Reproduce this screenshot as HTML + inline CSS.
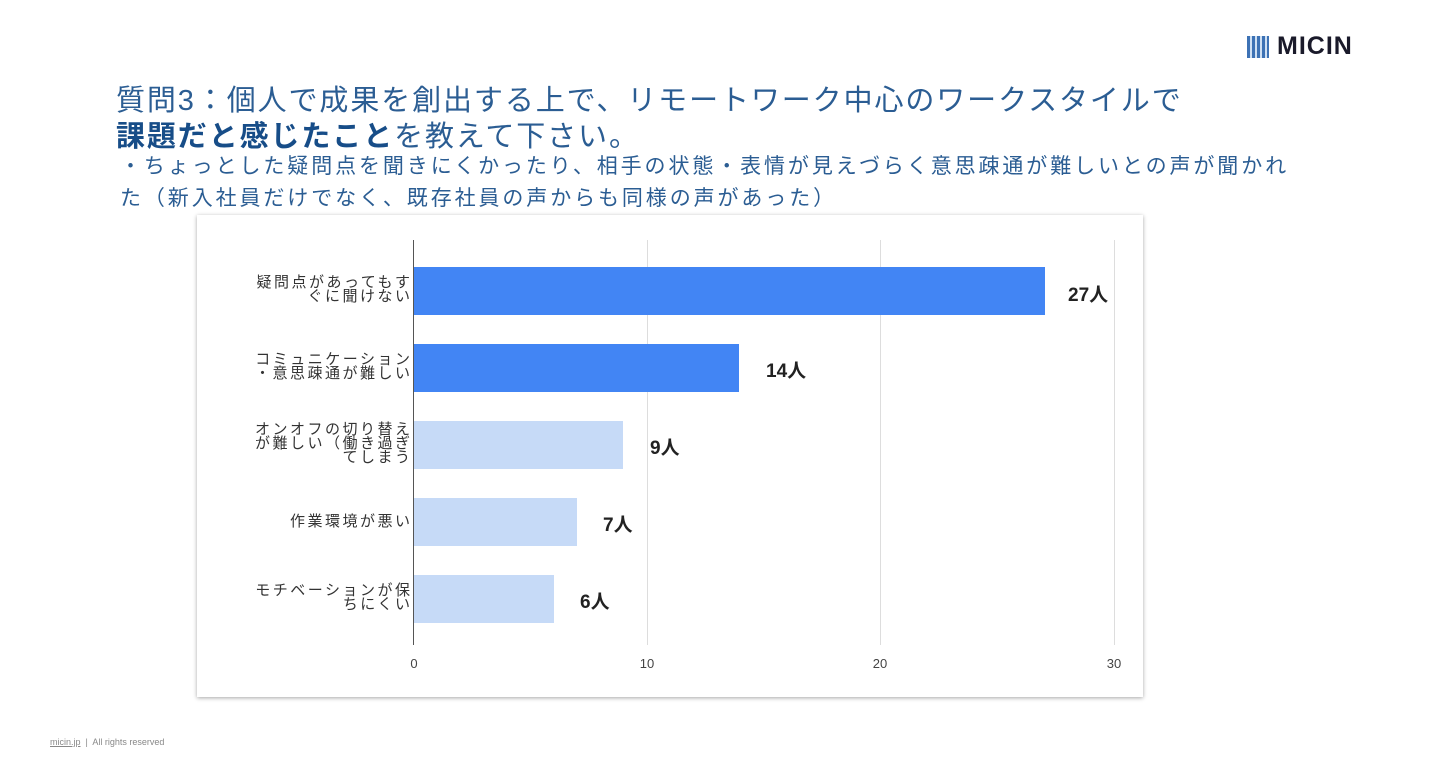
<!DOCTYPE html>
<html><head><meta charset="utf-8"><style>
body{margin:0;width:1440px;height:779px;background:#fff;position:relative;overflow:hidden;font-family:"Liberation Sans","Noto Sans CJK JP",sans-serif}
.t{position:absolute;white-space:nowrap;color:#2b5d93}
.card{position:absolute;left:197px;top:215px;width:946px;height:482px;background:#fff;box-shadow:0 1px 4px rgba(0,0,0,.35)}
.lab{position:absolute;right:1030px;text-align:right;font-size:15px;line-height:14px;letter-spacing:2.5px;margin-right:-2.5px;color:#333;white-space:nowrap}
.bar{position:absolute;left:414px;height:48px}
.v{position:absolute;font-size:19px;font-weight:bold;color:#222}
.g{position:absolute;top:240px;height:405px;width:1px;background:#ddd}
.tk{position:absolute;top:656px;font-size:13px;color:#444;transform:translateX(-50%)}
</style></head><body>
<div style="position:absolute;left:1247px;top:36px;width:22px;height:22px;background:repeating-linear-gradient(90deg,#3d72b5 0 3px,#cfe0f3 3px 5px)"></div>
<div style="position:absolute;left:1277px;top:32px;font-size:25px;font-weight:bold;color:#1a1a2a;letter-spacing:1px">MICIN</div>
<div class="t" style="left:116px;top:77px;font-size:29px;letter-spacing:1.9px">質問3：個人で成果を創出する上で、リモートワーク中心のワークスタイルで</div>
<div class="t" style="left:116px;top:113px;font-size:29px;letter-spacing:1.9px"><b style="color:#174d88">課題だと感じたこと</b>を教えて下さい。</div>
<div class="t" style="left:120px;top:150px;font-size:21px;letter-spacing:2.9px">・ちょっとした疑問点を聞きにくかったり、相手の状態・表情が見えづらく意思疎通が難しいとの声が聞かれ</div>
<div class="t" style="left:120px;top:182px;font-size:21px;letter-spacing:2.9px">た（新入社員だけでなく、既存社員の声からも同様の声があった）</div>
<div class="card"></div>
<div class="g" style="left:647px"></div><div class="g" style="left:880px"></div><div class="g" style="left:1114px"></div>
<div class="g" style="left:413px;background:#555"></div>
<div class="bar" style="top:267px;width:631px;background:#4285f4"></div>
<div class="bar" style="top:344px;width:325px;background:#4285f4"></div>
<div class="bar" style="top:421px;width:209px;background:#c6daf7"></div>
<div class="bar" style="top:498px;width:163px;background:#c6daf7"></div>
<div class="bar" style="top:575px;width:140px;background:#c6daf7"></div>
<div class="v" style="left:1068px;top:280px">27人</div>
<div class="v" style="left:766px;top:356px">14人</div>
<div class="v" style="left:650px;top:433px">9人</div>
<div class="v" style="left:603px;top:510px">7人</div>
<div class="v" style="left:580px;top:587px">6人</div>
<div class="lab" style="top:276px">疑問点があってもす<br>ぐに聞けない</div>
<div class="lab" style="top:353px">コミュニケーション<br>・意思疎通が難しい</div>
<div class="lab" style="top:423px">オンオフの切り替え<br>が難しい（働き過ぎ<br>てしまう</div>
<div class="lab" style="top:515px">作業環境が悪い</div>
<div class="lab" style="top:584px">モチベーションが保<br>ちにくい</div>
<div class="tk" style="left:414px">0</div><div class="tk" style="left:647px">10</div><div class="tk" style="left:880px">20</div><div class="tk" style="left:1114px">30</div>
<div style="position:absolute;left:50px;top:737px;font-size:9px;color:#888"><u>micin.jp</u> &nbsp;|&nbsp; All rights reserved</div>
</body></html>
